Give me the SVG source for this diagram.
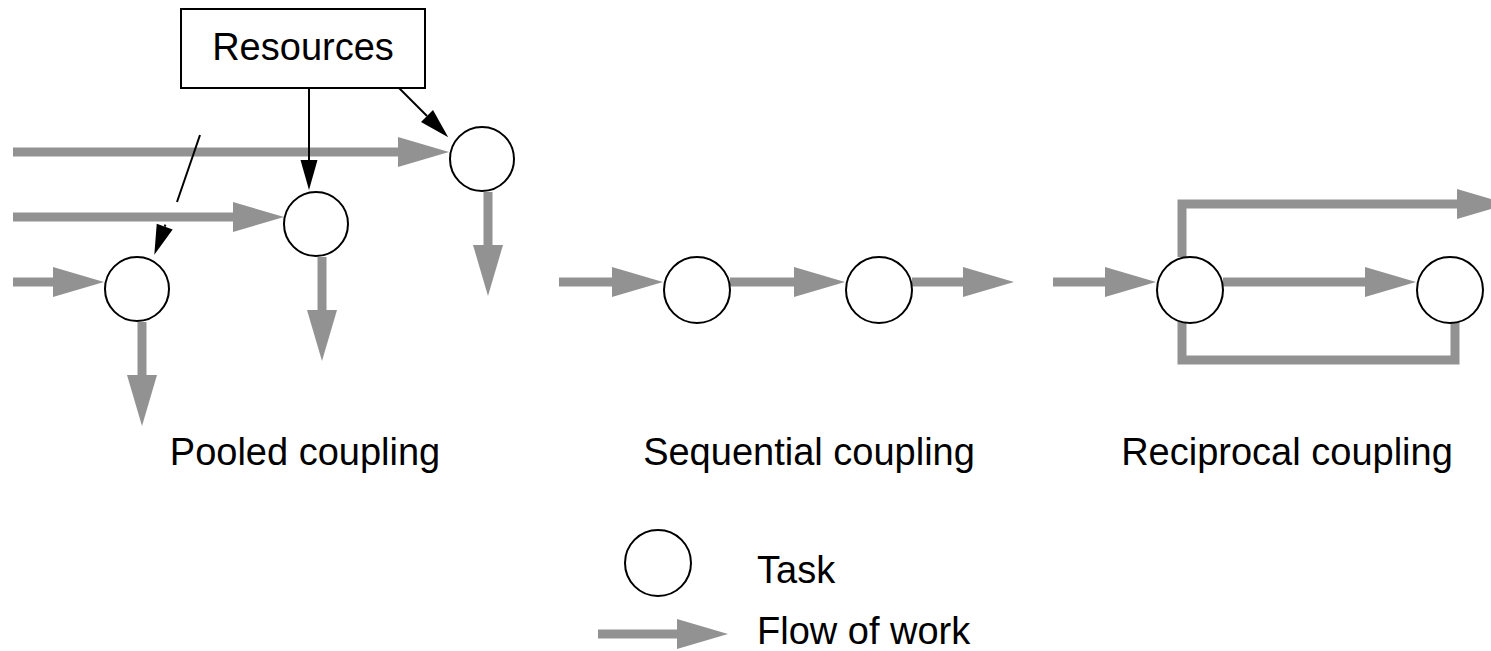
<svg xmlns="http://www.w3.org/2000/svg" width="1491" height="651" viewBox="0 0 1491 651">
  <style>
    .flow { fill: none; stroke: #929292; stroke-width: 9; stroke-linejoin: miter; marker-end: url(#grayHead); }
    .loop { fill: none; stroke: #929292; stroke-width: 9; stroke-linejoin: miter; stroke-linecap: square; }
    .res { fill: none; stroke: #000; stroke-width: 2; marker-end: url(#blackHead); }
    .task { fill: #fff; stroke: #000; stroke-width: 2; }
    .label { font-family: "Liberation Sans", Arial, sans-serif; font-size: 38px; fill: #000; }
  </style>
  <defs>
    <!-- wide grey head, starts at the end of the line -->
    <marker id="grayHead" markerUnits="userSpaceOnUse" markerWidth="52" markerHeight="30" viewBox="0 -15 52 30" refX="0" refY="0" orient="auto" overflow="visible">
      <path d="M0,-15 L51,0 L0,15 Z" fill="#929292"/>
    </marker>
    <!-- slim black head, starts at the end of the line -->
    <marker id="blackHead" markerUnits="userSpaceOnUse" markerWidth="30" markerHeight="18" viewBox="0 -9 30 18" refX="0" refY="0" orient="auto" overflow="visible">
      <path d="M0,-8.5 L30,0 L0,8.5 Z" fill="#000"/>
    </marker>
  </defs>

  <!-- connectors -->
  <g id="connectors">
    <!-- pooled coupling -->
    <path class="flow" d="M13,152 H398"/>
    <path class="flow" d="M13,217 H233"/>
    <path class="flow" d="M13,282 H53"/>
    <path class="flow" d="M142,322 V375"/>
    <path class="flow" d="M322,257 V310"/>
    <path class="flow" d="M488,192 V245"/>
    <path class="res" d="M309,88 V160"/>
    <path class="res" d="M399,88 L427,116"/>
    <path fill="none" stroke="#000" stroke-width="2" d="M200,135 L177,202"/>
    <path class="res" d="M165.4,224.7 L164.7,226.6"/>

    <!-- sequential coupling -->
    <path class="flow" d="M559,282 H612"/>
    <path class="flow" d="M730,282 H794"/>
    <path class="flow" d="M912,282 H963"/>

    <!-- reciprocal coupling -->
    <path class="flow" d="M1053,282 H1105"/>
    <path class="flow" d="M1223,282 H1365"/>
    <path class="flow" d="M1182,257 V204 H1457"/>
    <path class="loop" d="M1182,322 V360 H1455 V322"/>

    <!-- legend arrow -->
    <path class="flow" d="M598,634 H677"/>
  </g>

  <g id="resources">
    <rect x="181" y="9" width="244" height="79" fill="#fff" stroke="#000" stroke-width="2"/>
    <text class="label" x="303" y="60" text-anchor="middle">Resources</text>
  </g>

  <g id="pooled">
    <circle class="task" cx="482" cy="159" r="32"/>
    <circle class="task" cx="316" cy="224" r="32"/>
    <circle class="task" cx="137" cy="289" r="32"/>
    <text class="label" x="305" y="465" text-anchor="middle">Pooled coupling</text>
  </g>

  <g id="sequential">
    <circle class="task" cx="697" cy="290" r="33"/>
    <circle class="task" cx="879" cy="290" r="33"/>
    <text class="label" x="809" y="465" text-anchor="middle">Sequential coupling</text>
  </g>

  <g id="reciprocal">
    <circle class="task" cx="1190" cy="290" r="33"/>
    <circle class="task" cx="1450" cy="290" r="33"/>
    <text class="label" x="1287" y="465" text-anchor="middle">Reciprocal coupling</text>
  </g>

  <g id="legend">
    <circle class="task" cx="658" cy="563" r="33"/>
    <text class="label" x="757" y="583">Task</text>
    <text class="label" x="757" y="644">Flow of work</text>
  </g>
</svg>
